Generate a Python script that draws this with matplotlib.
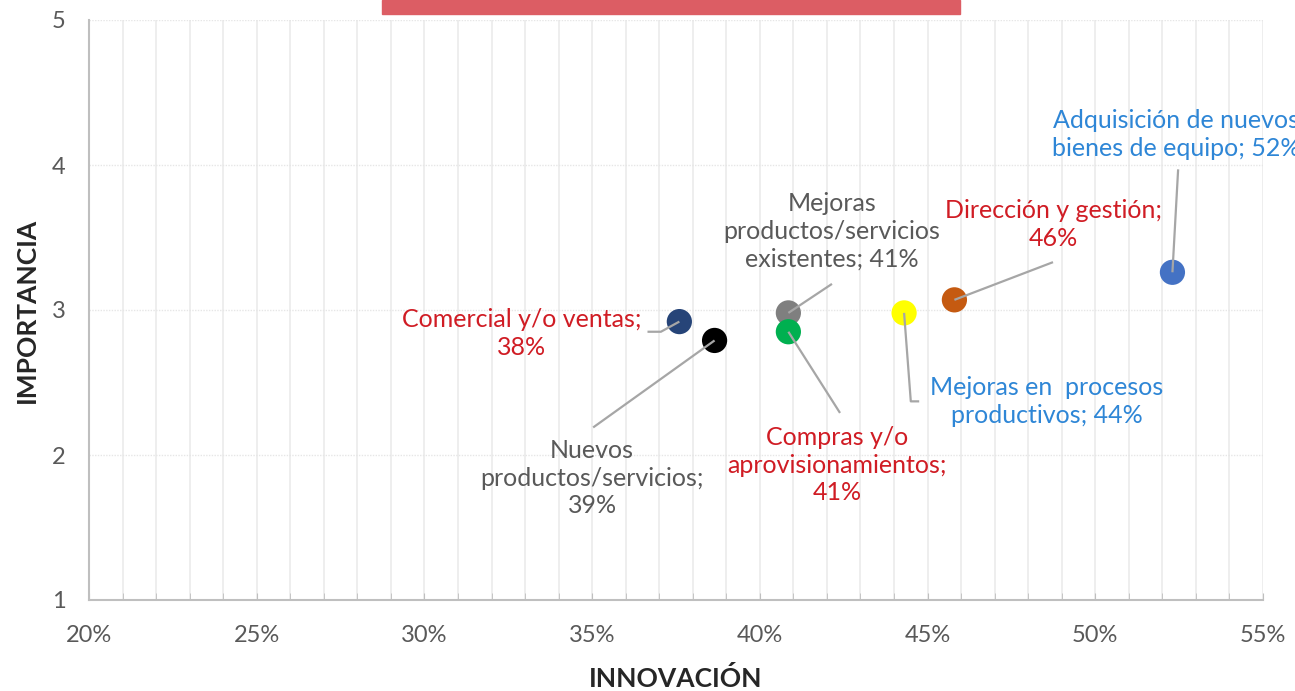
import matplotlib.pyplot as plt
from matplotlib.patches import Rectangle
from matplotlib.ticker import MultipleLocator, FuncFormatter

plt.rcParams['font.family'] = ['Lato', 'DejaVu Sans']

# data
categorias = ["Comercial y/o ventas;\n38%",
              "Nuevos\nproductos/servicios;\n39%",
              "Mejoras\nproductos/servicios\nexistentes; 41%",
              "Compras y/o\naprovisionamientos;\n41%",
              "Mejoras en  procesos\nproductivos; 44%",
              "Dirección y gestión;\n46%",
              "Adquisición de nuevos\nbienes de equipo; 52%"]
innovacion = [37.6, 38.65, 40.85, 40.85, 44.3, 45.8, 52.3]
importancia = [2.92, 2.79, 2.98, 2.85, 2.98, 3.07, 3.26]
colores = ['#264478', '#000000', '#7f7f7f', '#00b050', '#ffff00', '#c55a11', '#4472c4']
color_texto = ['#d01c24', '#595959', '#595959', '#d01c24', '#2e86d6', '#d01c24', '#2e86d6']

# label positions (data coords) and leader line elbows
pos_texto = [(32.9, 2.84), (35.0, 1.84), (42.15, 3.54), (42.3, 1.93),
             (48.55, 2.37), (48.75, 3.59), (52.4, 4.21)]
lineas = [[(36.65, 2.85), (37.05, 2.85)],
          [(35.03, 2.19)],
          [(42.15, 3.18)],
          [(42.39, 2.29)],
          [(44.75, 2.37), (44.5, 2.37)],
          [(48.74, 3.33)],
          [(52.47, 3.97)]]

fig = plt.figure(figsize=(12.95, 6.91), dpi=100)
ax = fig.add_axes([89 / 1295, 91 / 691, (1263 - 89) / 1295, 580 / 691])

ax.set_xlim(20, 55)
ax.set_ylim(1, 5)

ax.xaxis.set_major_locator(MultipleLocator(5))
ax.xaxis.set_minor_locator(MultipleLocator(1))
ax.yaxis.set_major_locator(MultipleLocator(1))
ax.xaxis.set_major_formatter(FuncFormatter(lambda v, p: f"{v:.0f}%"))

ax.grid(axis='x', which='both', color='#ebebeb', lw=1.2)
ax.grid(axis='y', which='major', color='#e6e6e6', lw=1, ls=(0, (1, 1)))
ax.set_axisbelow(True)

for s in ['top', 'right']:
    ax.spines[s].set_visible(False)
for s in ['left', 'bottom']:
    ax.spines[s].set_color('#bfbfbf')
    ax.spines[s].set_linewidth(1.5)

ax.tick_params(axis='x', which='both', direction='in', length=5, color='#bfbfbf',
               labelsize=17, labelcolor='#595959', pad=18)
ax.tick_params(axis='y', length=0, labelsize=17, labelcolor='#595959', pad=17)

# leader lines
for i in range(len(categorias)):
    xs = [p[0] for p in lineas[i]] + [innovacion[i]]
    ys = [p[1] for p in lineas[i]] + [importancia[i]]
    ax.plot(xs, ys, color='#a6a6a6', lw=1.6, zorder=4, solid_capstyle='butt')

ax.scatter(innovacion, importancia, s=330, c=colores, zorder=3, edgecolors='none')

for i, lab in enumerate(categorias):
    ax.text(pos_texto[i][0], pos_texto[i][1], lab, color=color_texto[i], fontsize=18,
            ha='center', va='center', linespacing=1.25, clip_on=False, zorder=5)

ax.set_xlabel('INNOVACIÓN', fontsize=19, fontweight='bold', color='#262626')
ax.set_ylabel('IMPORTANCIA', fontsize=19, fontweight='bold', color='#262626')
ax.xaxis.set_label_coords(0.5, -0.114)
ax.yaxis.set_label_coords(-0.043, 0.5)

# title box cut off at top
fig.patches.append(Rectangle((382 / 1295, 1 - 14 / 691), (960 - 382) / 1295, 14 / 691,
                             transform=fig.transFigure, color='#dc5d64', zorder=0))

fig.savefig('out.png', dpi=100)
